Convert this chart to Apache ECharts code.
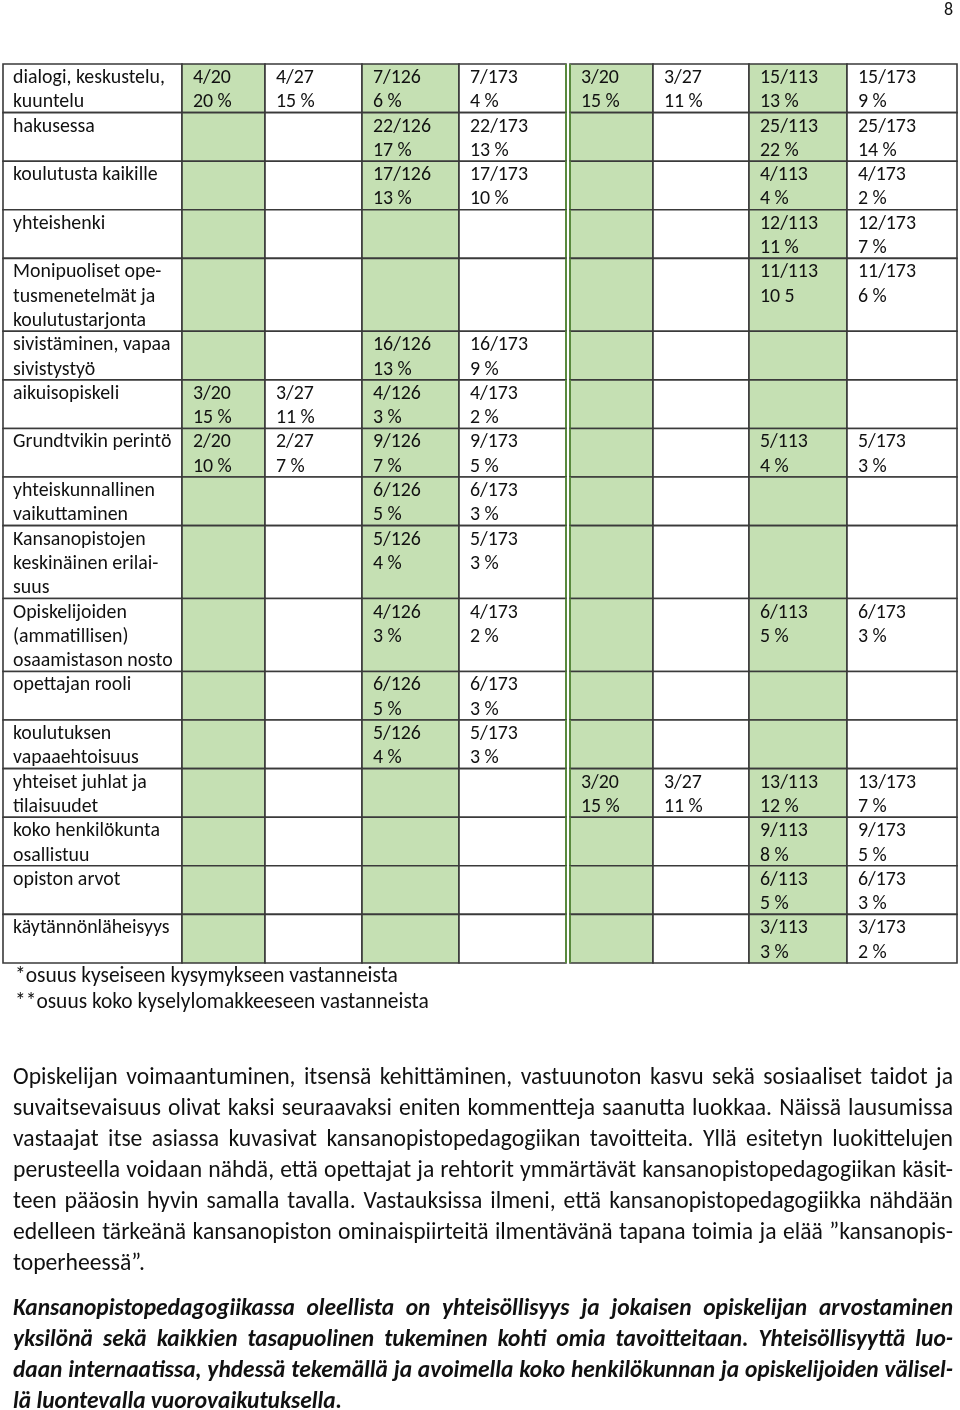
<!DOCTYPE html>
<html>
<head>
<meta charset="utf-8">
<script src="https://cdn.jsdelivr.net/npm/echarts/dist/echarts.min.js"></script>
<style>
html,body{margin:0;padding:0;background:#fff;}
#chart{width:960px;height:1410px;}
</style>
</head>
<body>
<div id="chart"></div>
<script>
// ---------------- DATA ----------------
const rowLabels = [
  'dialogi, keskustelu,\nkuuntelu',
  'hakusessa',
  'koulutusta kaikille',
  'yhteishenki',
  'Monipuoliset ope-\ntusmenetelmät ja\nkoulutustarjonta',
  'sivistäminen, vapaa\nsivistystyö',
  'aikuisopiskeli',
  'Grundtvikin perintö',
  'yhteiskunnallinen\nvaikuttaminen',
  'Kansanopistojen\nkeskinäinen erilai-\nsuus',
  'Opiskelijoiden\n(ammatillisen)\nosaamistason nosto',
  'opettajan rooli',
  'koulutuksen\nvapaaehtoisuus',
  'yhteiset juhlat ja\ntilaisuudet',
  'koko henkilökunta\nosallistuu',
  'opiston arvot',
  'käytännönläheisyys'
];
// respondents (denominators) of the 8 value columns
const denominators = [20, 27, 126, 173, 20, 27, 113, 173];
const greenColumns = [true, false, true, false, true, false, true, false];
// counts per column (one entry per row, null = empty cell)
const counts1 = [4, null, null, null, null, null, 3, 2, null, null, null, null, null, null, null, null, null];
const counts2 = [4, null, null, null, null, null, 3, 2, null, null, null, null, null, null, null, null, null];
const counts3 = [7, 22, 17, null, null, 16, 4, 9, 6, 5, 4, 6, 5, null, null, null, null];
const counts4 = [7, 22, 17, null, null, 16, 4, 9, 6, 5, 4, 6, 5, null, null, null, null];
const counts5 = [3, null, null, null, null, null, null, null, null, null, null, null, null, 3, null, null, null];
const counts6 = [3, null, null, null, null, null, null, null, null, null, null, null, null, 3, null, null, null];
const counts7 = [15, 25, 4, 12, 11, null, null, 5, null, null, 6, null, null, 13, 9, 6, 3];
const counts8 = [15, 25, 4, 12, 11, null, null, 5, null, null, 6, null, null, 13, 9, 6, 3];
// shares as printed (percent)
const pct1 = [20, null, null, null, null, null, 15, 10, null, null, null, null, null, null, null, null, null];
const pct2 = [15, null, null, null, null, null, 11, 7, null, null, null, null, null, null, null, null, null];
const pct3 = [6, 17, 13, null, null, 13, 3, 7, 5, 4, 3, 5, 4, null, null, null, null];
const pct4 = [4, 13, 10, null, null, 9, 2, 5, 3, 3, 2, 3, 3, null, null, null, null];
const pct5 = [15, null, null, null, null, null, null, null, null, null, null, null, null, 15, null, null, null];
const pct6 = [11, null, null, null, null, null, null, null, null, null, null, null, null, 11, null, null, null];
const pct7 = [13, 22, 4, 11, '10 5', null, null, 4, null, null, 5, null, null, 12, 8, 5, 3];
const pct8 = [9, 14, 2, 7, 6, null, null, 3, null, null, 3, null, null, 7, 5, 3, 2];
const footnotes = [
  '*osuus kyseiseen kysymykseen vastanneista',
  '**osuus koko kyselylomakkeeseen vastanneista'
];
const pageNumber = '8';
const paragraph1 = [
  'Opiskelijan voimaantuminen, itsensä kehittäminen, vastuunoton kasvu sekä sosiaaliset taidot ja',
  'suvaitsevaisuus olivat kaksi seuraavaksi eniten kommentteja saanutta luokkaa. Näissä lausumissa',
  'vastaajat itse asiassa kuvasivat kansanopistopedagogiikan tavoitteita. Yllä esitetyn luokittelujen',
  'perusteella voidaan nähdä, että opettajat ja rehtorit ymmärtävät kansanopistopedagogiikan käsit-',
  'teen pääosin hyvin samalla tavalla. Vastauksissa ilmeni, että kansanopistopedagogiikka nähdään',
  'edelleen tärkeänä kansanopiston ominaispiirteitä ilmentävänä tapana toimia ja elää ”kansanopis-',
  'toperheessä”.'
];
const paragraph2 = [
  'Kansanopistopedagogiikassa oleellista on yhteisöllisyys ja jokaisen opiskelijan arvostaminen',
  'yksilönä sekä kaikkien tasapuolinen tukeminen kohti omia tavoitteitaan. Yhteisöllisyyttä luo-',
  'daan internaatissa, yhdessä tekemällä ja avoimella koko henkilökunnan ja opiskelijoiden välisel-',
  'lä luontevalla vuorovaikutuksella.'
];

// ---------------- LAYOUT ----------------
const FAMILY = 'Carlito, Lato, sans-serif';
const W = '500';
const TEXT = '#111111';
const GREEN = '#c5e0b3';
const BORDER = '#3a3a3a';
const DOUBLE = '#5a8a3e';
// column edges in grid pixels (label column + 8 value columns, small gap for double rule)
const colEdges = [[0,179],[179,262],[262,359],[359,456],[456,563],[567,650],[650,746],[746,844],[844,954]];

const meas = document.createElement('canvas').getContext('2d');
function fit(text, width, style) {
  meas.font = (style || W) + ' 100px ' + FAMILY;
  return 100 * width / meas.measureText(text).width;
}
const tableSize = fit('dialogi, keskustelu,', 152);
const paraSize = fit('toperheessä”.', 132);
const boldSize = fit('lä luontevalla vuorovaikutuksella.', 329, 'italic bold');
const noteSize = fit(footnotes[0], 383);

const countCols = [counts1, counts2, counts3, counts4, counts5, counts6, counts7, counts8];
const pctCols = [pct1, pct2, pct3, pct4, pct5, pct6, pct7, pct8];
const rowLines = rowLabels.map(l => Math.max(2, l.split('\n').length));
const rowStart = [];
let acc = 0;
rowLines.forEach(n => { rowStart.push(acc); acc += n; });
const totalLines = acc;

const cells = [];
rowLabels.forEach((lab, r) => {
  cells.push({c: 0, r: r, text: lab});
  countCols.forEach((col, k) => {
    const v = col[r];
    const p = pctCols[k][r];
    let t = '';
    if (v != null) t = v + '/' + denominators[k] + '\n' + (typeof p === 'number' ? p + ' %' : p);
    cells.push({c: k + 1, r: r, text: t});
  });
});

function renderItem(params, api) {
  const d = cells[params.dataIndex];
  const e = colEdges[d.c];
  const p0 = api.coord([e[0], rowStart[d.r]]);
  const p1 = api.coord([e[1], rowStart[d.r] + rowLines[d.r]]);
  const lh = api.size([0, 1])[1];
  const green = d.c > 0 && greenColumns[d.c - 1];
  const children = [{
    type: 'rect',
    shape: {x: p0[0], y: p0[1], width: p1[0] - p0[0], height: p1[1] - p0[1]},
    style: {fill: green ? GREEN : '#ffffff', stroke: BORDER, lineWidth: 1.6}
  }];
  if (d.c === 4) {
    children.push({type: 'line', shape: {x1: p1[0], y1: p0[1], x2: p1[0], y2: p1[1]}, style: {stroke: DOUBLE, lineWidth: 2}});
  }
  if (d.c === 5) {
    children.push({type: 'line', shape: {x1: p0[0], y1: p0[1], x2: p0[0], y2: p1[1]}, style: {stroke: DOUBLE, lineWidth: 2}});
  }
  if (d.text) {
    children.push({
      type: 'text',
      x: p0[0] + (d.c === 0 ? 10 : 11),
      y: p0[1] + 20 - lh / 2 - 0.3 * tableSize,
      style: {text: d.text, font: W + ' ' + tableSize.toFixed(2) + 'px ' + FAMILY, fill: TEXT, lineHeight: lh, verticalAlign: 'top', align: 'left'}
    });
  }
  return {type: 'group', children: children};
}

// justified paragraph text as graphic elements
function paraElements(lines, size, style, x0, x1, base, step) {
  const font = style + ' ' + size.toFixed(2) + 'px ' + FAMILY;
  meas.font = font;
  const els = [];
  lines.forEach((line, i) => {
    const y = base + i * step - 0.3 * size;
    const words = line.split(' ');
    if (i === lines.length - 1 || words.length < 2) {
      els.push({type: 'text', x: x0, y: y, style: {text: line, font: font, fill: TEXT, verticalAlign: 'middle'}});
      return;
    }
    const widths = words.map(w => meas.measureText(w).width);
    const tot = widths.reduce((a, b) => a + b, 0);
    const gap = (x1 - x0 - tot) / (words.length - 1);
    let x = x0;
    words.forEach((w, j) => {
      els.push({type: 'text', x: x, y: y, style: {text: w, font: font, fill: TEXT, verticalAlign: 'middle'}});
      x += widths[j] + gap;
    });
  });
  return els;
}

const graphics = []
  .concat(paraElements(paragraph1, paraSize, W, 13, 953, 1085, 31))
  .concat(paraElements(paragraph2, boldSize, 'italic bold', 13, 953, 1316, 31))
  .concat(footnotes.map((f, i) => ({type: 'text', x: 15, y: 983 + i * 26 - 0.3 * noteSize,
     style: {text: f, font: W + ' ' + noteSize.toFixed(2) + 'px ' + FAMILY, fill: TEXT, verticalAlign: 'middle'}})))
  .concat([{type: 'text', x: 953, y: 10, style: {text: pageNumber, font: W + ' 18px ' + FAMILY, fill: TEXT, align: 'right', verticalAlign: 'middle'}}]);

const chart = echarts.init(document.getElementById('chart'), null, {renderer: 'canvas'});
chart.setOption({
  animation: false,
  backgroundColor: '#ffffff',
  grid: {left: 3, top: 64, width: 954, height: 899},
  xAxis: {type: 'value', min: 0, max: 954, show: false},
  yAxis: {type: 'value', min: 0, max: totalLines, inverse: true, show: false},
  series: [{
    type: 'custom',
    renderItem: renderItem,
    data: cells.map(d => [d.c, d.r]),
    clip: false
  }],
  graphic: graphics
});
</script>
</body>
</html>
